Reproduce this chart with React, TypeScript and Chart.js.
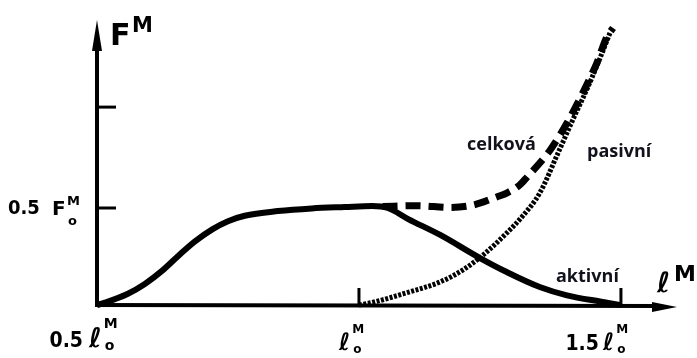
import React, { useEffect, useRef } from 'react';
import { Chart, registerables } from 'chart.js';

Chart.register(...registerables);

// Muscle force–length relationship (normalised length ℓ/ℓ0, force F/F0)
const activeLength = [0.5, 0.515, 0.559, 0.592, 0.624, 0.655, 0.687, 0.72, 0.75, 0.782, 0.845, 0.91, 0.973, 1.025, 1.055, 1.094, 1.155, 1.231, 1.282, 1.345, 1.397, 1.46, 1.5];
const activeForce = [0, 0.012, 0.058, 0.11, 0.176, 0.253, 0.328, 0.39, 0.432, 0.46, 0.484, 0.498, 0.505, 0.51, 0.5, 0.443, 0.361, 0.242, 0.17, 0.093, 0.05, 0.018, 0];

const passiveLength = [1.0, 1.027, 1.092, 1.155, 1.198, 1.237, 1.282, 1.311, 1.345, 1.38, 1.408, 1.437, 1.464, 1.479];
const passiveForce = [0, 0.014, 0.064, 0.119, 0.18, 0.258, 0.371, 0.454, 0.577, 0.784, 0.954, 1.124, 1.299, 1.402];

const totalLength = [1.045, 1.111, 1.174, 1.218, 1.263, 1.282, 1.307, 1.321, 1.365, 1.397, 1.427, 1.454, 1.473, 1.485];
const totalForce = [0.508, 0.512, 0.503, 0.515, 0.557, 0.577, 0.619, 0.66, 0.799, 0.938, 1.093, 1.247, 1.381, 1.428];

const xTickValues = [0.5, 1.0, 1.5];
const xTickPrefixes = ['0.5', '', '1.5'];
const yTickValues = [0.5, 1.02];
const yTickPrefixes = ['0.5', ''];

const curveLabels = ['aktivní', 'pasivní', 'celková'];

const X_MIN = 0.5;
const X_MAX = 1.607;
const Y_MIN = 0;
const Y_MAX = 1.469;

const toPoints = (xs: number[], ys: number[]) => xs.map((x, i) => ({ x, y: ys[i] }));

const MATH_FONT = '"DejaVu Sans", sans-serif';
const NUM_FONT = '"DejaVu Sans Condensed", "DejaVu Sans", sans-serif';
const TEXT_FONT = '"Open Sans", "Noto Sans", sans-serif';

// "ℓ" with a superscript M and an optional subscript o
function drawEll(ctx: CanvasRenderingContext2D, left: number, base: number, size: number, withMarks: boolean) {
  ctx.font = `italic bold ${size}px ${MATH_FONT}`;
  ctx.fillText('ℓ', left, base);
  if (!withMarks) return;
  const w = ctx.measureText('ℓ').width;
  ctx.font = `bold ${Math.round(size * 0.5)}px ${MATH_FONT}`;
  ctx.fillText('M', left + w + 2, base - size * 0.72);
  ctx.fillText('o', left + w + 3, base + 3);
}

const sketchAxes = {
  id: 'sketchAxes',
  beforeDatasetsDraw(chart: any) {
    const { ctx, chartArea: a, scales } = chart;
    const xs = scales.x;
    const ys = scales.y;
    const x0 = xs.getPixelForValue(X_MIN);
    const y0 = ys.getPixelForValue(Y_MIN);
    ctx.save();
    ctx.strokeStyle = '#000';
    ctx.fillStyle = '#000';
    ctx.lineCap = 'butt';

    // vertical axis with arrow
    ctx.lineWidth = 4;
    ctx.beginPath();
    ctx.moveTo(x0, y0 + 2);
    ctx.lineTo(x0, a.top + 26);
    ctx.stroke();
    ctx.beginPath();
    ctx.moveTo(x0, a.top);
    ctx.lineTo(x0 + 5, a.top + 31);
    ctx.lineTo(x0 - 5, a.top + 31);
    ctx.closePath();
    ctx.fill();

    // horizontal axis with arrow
    ctx.beginPath();
    ctx.moveTo(x0 - 2, y0);
    ctx.lineTo(a.right - 20, y0 + 1);
    ctx.stroke();
    ctx.beginPath();
    ctx.moveTo(a.right, y0 + 2);
    ctx.lineTo(a.right - 25, y0 - 3);
    ctx.lineTo(a.right - 25, y0 + 7);
    ctx.closePath();
    ctx.fill();

    // ticks
    ctx.lineWidth = 3;
    yTickValues.forEach((v) => {
      const py = ys.getPixelForValue(v);
      ctx.beginPath();
      ctx.moveTo(x0, py);
      ctx.lineTo(x0 + 19, py);
      ctx.stroke();
    });
    xTickValues.forEach((v, i) => {
      if (i === 0) return;
      const px = xs.getPixelForValue(v);
      ctx.beginPath();
      ctx.moveTo(px, y0);
      ctx.lineTo(px, y0 - 17);
      ctx.stroke();
    });
    ctx.restore();
  },
  afterDraw(chart: any) {
    const { ctx, scales } = chart;
    const xs = scales.x;
    const ys = scales.y;
    ctx.save();
    ctx.fillStyle = '#000';
    ctx.textBaseline = 'alphabetic';
    ctx.textAlign = 'left';

    // axis titles
    ctx.font = `bold 30px ${MATH_FONT}`;
    ctx.fillText('F', 110, 45);
    ctx.font = `bold 21px ${MATH_FONT}`;
    ctx.fillText('M', 132, 32);
    drawEll(ctx, 657, 292, 28, false);
    ctx.font = `bold 22px ${MATH_FONT}`;
    ctx.fillText('M', 674, 281);

    // vertical tick label 0.5 F0^M
    yTickValues.forEach((v, i) => {
      if (!yTickPrefixes[i]) return;
      const py = ys.getPixelForValue(v);
      ctx.font = `bold 20px ${NUM_FONT}`;
      ctx.fillText(yTickPrefixes[i], 8, py + 6);
      ctx.font = `bold 20px ${MATH_FONT}`;
      ctx.fillText('F', 52, py + 7);
      ctx.font = `bold 13px ${MATH_FONT}`;
      ctx.fillText('M', 67, py - 3);
      ctx.fillText('o', 68, py + 17);
    });

    // horizontal tick labels
    const ellOffsets = [-8, -20, -18];
    const prefixRight = [-6, 0, -4];
    xTickValues.forEach((v, i) => {
      const px = xs.getPixelForValue(v);
      const left = px + ellOffsets[i];
      const base = i === 0 ? 347 : 350;
      if (xTickPrefixes[i]) {
        ctx.font = `bold 21px ${NUM_FONT}`;
        ctx.textAlign = 'right';
        ctx.fillText(xTickPrefixes[i], left + prefixRight[i], base);
        ctx.textAlign = 'left';
      }
      drawEll(ctx, left, base, i === 0 ? 27 : 24, true);
    });

    // curve names
    ctx.fillStyle = '#12121c';
    ctx.font = `bold 18px ${TEXT_FONT}`;
    ctx.fillText(curveLabels[0], 556, 282);
    ctx.fillText(curveLabels[1], 587, 157);
    ctx.fillText(curveLabels[2], 467, 150);
    ctx.restore();
  },
};

export default function App() {
  const canvasRef = useRef<HTMLCanvasElement | null>(null);

  useEffect(() => {
    const canvas = canvasRef.current;
    if (!canvas) return;
    const chart = new Chart(canvas, {
      type: 'line',
      data: {
        datasets: [
          {
            label: curveLabels[2],
            data: toPoints(totalLength, totalForce),
            borderColor: '#000',
            borderWidth: 7,
            borderDash: [15, 8],
            pointRadius: 0,
            fill: false,
            cubicInterpolationMode: 'monotone',
            clip: false as any,
          },
          {
            label: curveLabels[1],
            data: toPoints(passiveLength, passiveForce),
            borderColor: '#000',
            borderWidth: 5,
            borderDash: [3, 1.5],
            pointRadius: 0,
            fill: false,
            cubicInterpolationMode: 'monotone',
            clip: false as any,
          },
          {
            label: curveLabels[0],
            data: toPoints(activeLength, activeForce),
            borderColor: '#000',
            borderWidth: 6,
            pointRadius: 0,
            fill: false,
            cubicInterpolationMode: 'monotone',
            clip: false as any,
          },
        ],
      },
      options: {
        responsive: false,
        animation: false,
        layout: { padding: { left: 97, right: 20, top: 20, bottom: 53 } },
        plugins: { legend: { display: false }, tooltip: { enabled: false } },
        scales: {
          x: { type: 'linear', min: X_MIN, max: X_MAX, display: false },
          y: { type: 'linear', min: Y_MIN, max: Y_MAX, display: false },
        },
      },
      plugins: [sketchAxes],
    });
    return () => chart.destroy();
  }, []);

  return (
    <div style={{ position: 'absolute', left: 0, top: 0, width: 697, height: 358, background: '#fff' }}>
      <canvas ref={canvasRef} width={697} height={358} />
    </div>
  );
}
